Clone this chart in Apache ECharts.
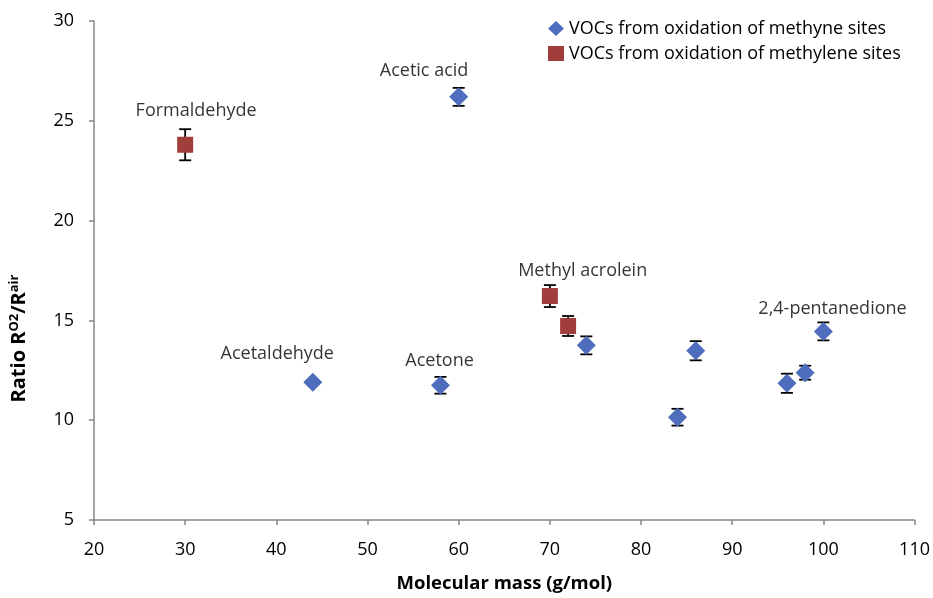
<!DOCTYPE html>
<html>
<head>
<meta charset="utf-8">
<script src="https://cdn.jsdelivr.net/npm/echarts@6/dist/echarts.min.js"></script>
<style>html,body{margin:0;padding:0;background:#fff}#c{width:933px;height:598px}</style>
</head>
<body>
<div id="c"></div>
<script>
// Methyne series
const methyneX = [44, 58, 60, 74, 84, 86, 96, 98, 100];
const methyneY = [11.9, 11.75, 26.2, 13.75, 10.15, 13.48, 11.85, 12.38, 14.45];
const methyneErr = [0.1, 0.42, 0.45, 0.45, 0.42, 0.48, 0.48, 0.35, 0.45];
// Methylene series
const methyleneX = [30, 70, 72];
const methyleneY = [23.8, 16.22, 14.72];
const methyleneErr = [0.78, 0.55, 0.5];
// Annotations
const labelNames = ['Formaldehyde', 'Acetic acid', 'Methyl acrolein', 'Acetaldehyde', 'Acetone', '2,4-pentanedione'];
const labelX = [31.2, 56.2, 73.6, 40.1, 57.9, 101.0];
const labelY = [25.5, 27.5, 17.5, 13.3, 12.95, 15.6];
// Axis settings
const xMin = 20, xMax = 110, xStep = 10;
const yMin = 5, yMax = 30, yStep = 5;
const seriesNames = ['VOCs from oxidation of methyne sites', 'VOCs from oxidation of methylene sites'];

const FONT = '"Open Sans", "Noto Sans", sans-serif';
const chart = echarts.init(document.getElementById('c'));

function errData(xs, ys, es) {
  return xs.map((x, i) => [x, ys[i] - es[i], ys[i] + es[i]]);
}
function errorSeries(xs, ys, es) {
  return {
    type: 'custom',
    silent: true,
    z: 1,
    data: errData(xs, ys, es),
    renderItem: function (params, api) {
      const lo = api.coord([api.value(0), api.value(1)]);
      const hi = api.coord([api.value(0), api.value(2)]);
      const w = 6;
      const st = { stroke: '#000', lineWidth: 1.8 };
      return {
        type: 'group',
        children: [
          { type: 'line', shape: { x1: lo[0], y1: lo[1], x2: hi[0], y2: hi[1] }, style: st },
          { type: 'line', shape: { x1: lo[0] - w, y1: lo[1], x2: lo[0] + w, y2: lo[1] }, style: st },
          { type: 'line', shape: { x1: hi[0] - w, y1: hi[1], x2: hi[0] + w, y2: hi[1] }, style: st }
        ]
      };
    }
  };
}

const option = {
  animation: false,
  backgroundColor: '#fff',
  grid: { left: 93, top: 21, right: 18, bottom: 75, containLabel: false },
  legend: {
    left: 543, top: 13,
    orient: 'vertical',
    itemGap: 4,
    itemWidth: 16, itemHeight: 15,
    itemStyle: { opacity: 1 },
    textStyle: { fontFamily: FONT, fontSize: 18, color: '#000', lineHeight: 21 },
    data: [
      { name: seriesNames[0], icon: 'diamond' },
      { name: seriesNames[1], icon: 'rect' }
    ]
  },
  xAxis: {
    type: 'value', min: xMin, max: xMax, interval: xStep,
    splitLine: { show: false },
    axisLine: { lineStyle: { color: '#868686', width: 1.5 } },
    axisTick: { show: true, length: 5, lineStyle: { color: '#868686', width: 1.5 } },
    axisLabel: { fontFamily: FONT, fontSize: 18, color: '#000', margin: 21 },
    name: 'Molecular mass (g/mol)',
    nameLocation: 'middle', nameGap: 54,
    nameTextStyle: { fontFamily: FONT, fontSize: 18.5, fontWeight: 'bold', color: '#000' }
  },
  yAxis: {
    type: 'value', min: yMin, max: yMax, interval: yStep,
    splitLine: { show: false },
    axisLine: { show: true, lineStyle: { color: '#868686', width: 1.5 } },
    axisTick: { show: true, length: 5, lineStyle: { color: '#868686', width: 1.5 } },
    axisLabel: { fontFamily: FONT, fontSize: 18, color: '#000', margin: 20 },
    name: 'Ratio R{sup|O2}/R{sup|air}',
    nameLocation: 'middle', nameGap: 63, nameRotate: 90,
    nameTextStyle: {
      fontFamily: FONT, fontSize: 20, fontWeight: 'bold', color: '#000',
      padding: [0, 136, 0, 0],
      rich: { sup: { fontFamily: FONT, fontSize: 13, fontWeight: 'bold', color: '#000', verticalAlign: 'top', padding: [0, 0, 10, 0] } }
    }
  },
  series: [
    errorSeries(methyneX, methyneY, methyneErr),
    errorSeries(methyleneX, methyleneY, methyleneErr),
    {
      name: seriesNames[0], type: 'scatter', z: 3,
      symbol: 'diamond', symbolSize: 19,
      itemStyle: { color: '#4e6dbd', opacity: 1 },
      data: methyneX.map((x, i) => [x, methyneY[i]])
    },
    {
      name: seriesNames[1], type: 'scatter', z: 3,
      symbol: 'rect', symbolSize: 16,
      itemStyle: { color: '#a13d3a', opacity: 1 },
      data: methyleneX.map((x, i) => [x, methyleneY[i]])
    },
    {
      type: 'scatter', silent: true, z: 4,
      symbolSize: 0,
      label: {
        show: true, position: 'inside',
        formatter: p => labelNames[p.dataIndex],
        fontFamily: FONT, fontSize: 18, color: '#000'
      },
      data: labelX.map((x, i) => [x, labelY[i]])
    }
  ]
};
chart.setOption(option);
</script>
</body>
</html>
